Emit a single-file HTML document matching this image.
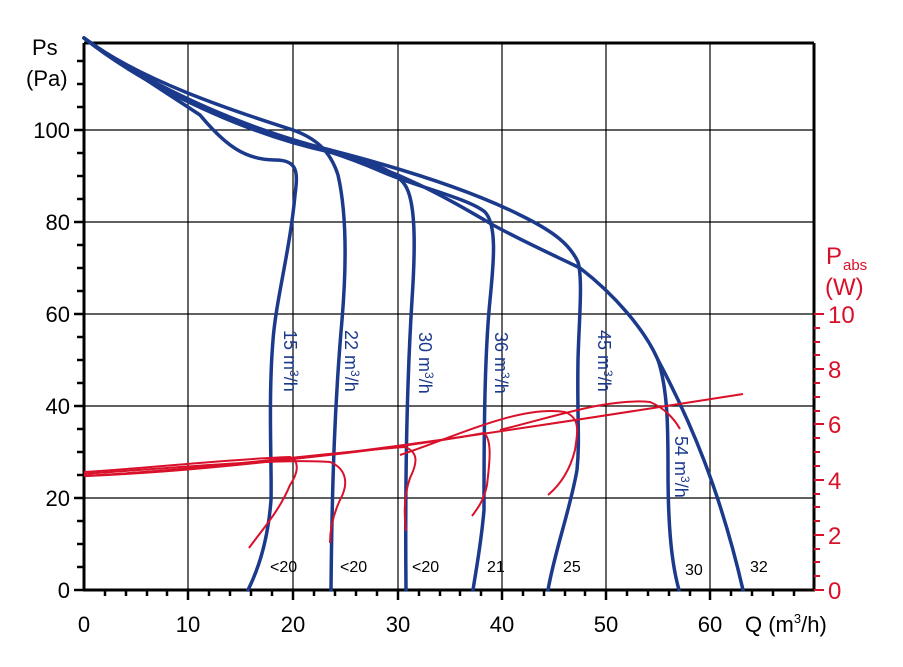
<!DOCTYPE html>
<html><head><meta charset="utf-8"><style>
body{margin:0;background:#fff}
svg{display:block;font-family:"Liberation Sans",Arial,sans-serif}
</style></head><body>
<svg width="903" height="667" viewBox="0 0 903 667" xmlns="http://www.w3.org/2000/svg">
<rect width="903" height="667" fill="#fff"/>
<g stroke="#000" stroke-width="1.2">
<line x1="84" y1="130" x2="814" y2="130"/>
<line x1="84" y1="222" x2="814" y2="222"/>
<line x1="84" y1="314" x2="814" y2="314"/>
<line x1="84" y1="406" x2="814" y2="406"/>
<line x1="84" y1="498" x2="814" y2="498"/>
<line x1="188" y1="43" x2="188" y2="590"/>
<line x1="293" y1="43" x2="293" y2="590"/>
<line x1="398" y1="43" x2="398" y2="590"/>
<line x1="502" y1="43" x2="502" y2="590"/>
<line x1="606" y1="43" x2="606" y2="590"/>
<line x1="710" y1="43" x2="710" y2="590"/>
</g>
<g stroke="#000" stroke-width="3" fill="none">
<line x1="84" y1="43" x2="814" y2="43"/>
<line x1="84" y1="43" x2="84" y2="591"/>
<line x1="83" y1="590" x2="815" y2="590"/>
<line x1="814" y1="43" x2="814" y2="591"/>
</g>
<g stroke="#000" stroke-width="2.5">
<line x1="77" y1="61" x2="84" y2="61"/><line x1="77" y1="84" x2="84" y2="84"/><line x1="77" y1="107" x2="84" y2="107"/><line x1="74" y1="130" x2="84" y2="130"/>
<line x1="77" y1="153" x2="84" y2="153"/><line x1="77" y1="176" x2="84" y2="176"/><line x1="77" y1="199" x2="84" y2="199"/><line x1="74" y1="222" x2="84" y2="222"/>
<line x1="77" y1="245" x2="84" y2="245"/><line x1="77" y1="268" x2="84" y2="268"/><line x1="77" y1="291" x2="84" y2="291"/><line x1="74" y1="314" x2="84" y2="314"/>
<line x1="77" y1="337" x2="84" y2="337"/><line x1="77" y1="360" x2="84" y2="360"/><line x1="77" y1="383" x2="84" y2="383"/><line x1="74" y1="406" x2="84" y2="406"/>
<line x1="77" y1="429" x2="84" y2="429"/><line x1="77" y1="452" x2="84" y2="452"/><line x1="77" y1="475" x2="84" y2="475"/><line x1="74" y1="498" x2="84" y2="498"/>
<line x1="77" y1="521" x2="84" y2="521"/><line x1="77" y1="544" x2="84" y2="544"/><line x1="77" y1="567" x2="84" y2="567"/><line x1="74" y1="590" x2="84" y2="590"/>
</g>
<g stroke="#000" stroke-width="2.5">
<line x1="105" y1="590" x2="105" y2="596"/><line x1="126" y1="590" x2="126" y2="596"/><line x1="147" y1="590" x2="147" y2="596"/><line x1="167" y1="590" x2="167" y2="596"/><line x1="188" y1="590" x2="188" y2="600"/>
<line x1="209" y1="590" x2="209" y2="596"/><line x1="230" y1="590" x2="230" y2="596"/><line x1="251" y1="590" x2="251" y2="596"/><line x1="272" y1="590" x2="272" y2="596"/><line x1="293" y1="590" x2="293" y2="600"/>
<line x1="314" y1="590" x2="314" y2="596"/><line x1="335" y1="590" x2="335" y2="596"/><line x1="356" y1="590" x2="356" y2="596"/><line x1="377" y1="590" x2="377" y2="596"/><line x1="398" y1="590" x2="398" y2="600"/>
<line x1="419" y1="590" x2="419" y2="596"/><line x1="440" y1="590" x2="440" y2="596"/><line x1="460" y1="590" x2="460" y2="596"/><line x1="481" y1="590" x2="481" y2="596"/><line x1="502" y1="590" x2="502" y2="600"/>
<line x1="523" y1="590" x2="523" y2="596"/><line x1="544" y1="590" x2="544" y2="596"/><line x1="565" y1="590" x2="565" y2="596"/><line x1="585" y1="590" x2="585" y2="596"/><line x1="606" y1="590" x2="606" y2="600"/>
<line x1="627" y1="590" x2="627" y2="596"/><line x1="648" y1="590" x2="648" y2="596"/><line x1="669" y1="590" x2="669" y2="596"/><line x1="690" y1="590" x2="690" y2="596"/><line x1="710" y1="590" x2="710" y2="600"/>
<line x1="731" y1="590" x2="731" y2="596"/><line x1="752" y1="590" x2="752" y2="596"/><line x1="773" y1="590" x2="773" y2="596"/><line x1="794" y1="590" x2="794" y2="596"/>
</g>
<g stroke="#d9102a" stroke-width="2">
<line x1="814" y1="576" x2="820" y2="576"/><line x1="814" y1="562" x2="820" y2="562"/><line x1="814" y1="549" x2="820" y2="549"/><line x1="814" y1="535" x2="824" y2="535"/>
<line x1="814" y1="521" x2="820" y2="521"/><line x1="814" y1="507" x2="820" y2="507"/><line x1="814" y1="494" x2="820" y2="494"/><line x1="814" y1="480" x2="824" y2="480"/>
<line x1="814" y1="466" x2="820" y2="466"/><line x1="814" y1="452" x2="820" y2="452"/><line x1="814" y1="438" x2="820" y2="438"/><line x1="814" y1="424" x2="824" y2="424"/>
<line x1="814" y1="411" x2="820" y2="411"/><line x1="814" y1="397" x2="820" y2="397"/><line x1="814" y1="383" x2="820" y2="383"/><line x1="814" y1="369" x2="824" y2="369"/>
<line x1="814" y1="355" x2="820" y2="355"/><line x1="814" y1="342" x2="820" y2="342"/><line x1="814" y1="328" x2="820" y2="328"/><line x1="814" y1="314" x2="824" y2="314"/>
<line x1="814" y1="590" x2="824" y2="590"/>
</g>
<g font-size="22" fill="#000" text-anchor="end">
<text x="70" y="138">100</text><text x="70" y="230">80</text><text x="70" y="322">60</text><text x="70" y="414">40</text><text x="70" y="506">20</text><text x="70" y="598">0</text>
</g>
<g font-size="22" fill="#000" text-anchor="middle">
<text x="84" y="632">0</text><text x="188" y="632">10</text><text x="293" y="632">20</text><text x="398" y="632">30</text><text x="502" y="632">40</text><text x="606" y="632">50</text><text x="710" y="632">60</text>
</g>
<text x="745" y="632" font-size="22">Q (m<tspan font-size="13" dy="-9">3</tspan><tspan dy="9">/h)</tspan></text>
<text x="32" y="55" font-size="22">Ps</text>
<text x="26" y="86" font-size="22">(Pa)</text>
<g font-size="24" fill="#d9102a">
<text x="828" y="323">10</text><text x="828" y="378">8</text><text x="828" y="433">6</text><text x="828" y="489">4</text><text x="828" y="544">2</text><text x="828" y="599">0</text>
<text x="826" y="264">P</text><text x="843" y="270" font-size="15">abs</text>
<text x="825" y="295">(W)</text>
</g>
<g stroke="#1c3a8c" stroke-width="3.5" fill="none" stroke-linecap="round">
<path d="M84,38 C130,70 170,95 200,115 C225,145 245,160 275,160 C298,160 298,172 295,195 C290,250 276,300 273,340 C268,400 272,470 271,500 C268,540 258,570 248,590"/>
<path d="M84,38 C140,80 230,110 293,130 C315,138 330,150 338,175 C346,210 347,260 342,320 C335,400 332,480 331,590"/>
<path d="M84,38 C150,88 250,130 330,150 C370,162 395,170 405,185 C415,200 416,240 412,300 C407,380 405,480 406,590"/>
<path d="M84,38 C150,88 250,130 330,152 C370,165 380,172 398,178 C430,190 470,200 485,212 C497,225 494,260 490,300 C484,360 484,450 484,510 C481,545 476,570 473,590"/>
<path d="M84,38 C150,90 250,135 330,150 C400,168 470,190 520,215 C555,232 570,245 578,262 C583,280 579,320 578,360 C577,420 580,440 577,470 C570,510 555,550 548,590"/>
<path d="M84,38 C150,90 250,135 330,152 C400,170 450,200 493,225 C530,245 560,258 580,268 C615,295 645,330 658,360 C668,390 668,430 668,470 C668,530 672,565 679,590"/>
<path d="M658,360 C690,420 720,490 743,590"/>
</g>
<g stroke="#d9102a" stroke-width="2" fill="none">
<path d="M84,476 C250,470 450,440 743,394"/>
<path d="M84,472 C150,468 230,459 290,457 C298,460 300,470 290,485 C280,510 262,530 249,548"/>
<path d="M84,474 C170,468 280,458 330,462 C345,468 350,482 340,500 C333,515 330,530 330,543"/>
<path d="M84,476 C200,470 330,452 405,447 C418,452 418,462 410,478 C404,495 404,515 406,531"/>
<path d="M84,476 C220,468 380,452 484,433 C492,440 490,460 487,485 C484,500 478,508 472,516"/>
<path d="M400,455 C460,435 520,405 565,412 C580,418 578,430 575,450 C570,470 560,485 548,495"/>
<path d="M500,430 C560,415 610,398 650,402 C665,408 675,420 680,429"/>
</g>
<g font-size="18" fill="#1c3a8c">
<text transform="translate(284,330) rotate(90)">15 m<tspan font-size="12" dy="-6">3</tspan><tspan dy="6">/h</tspan></text>
<text transform="translate(345,330) rotate(90)">22 m<tspan font-size="12" dy="-6">3</tspan><tspan dy="6">/h</tspan></text>
<text transform="translate(419,332) rotate(90)">30 m<tspan font-size="12" dy="-6">3</tspan><tspan dy="6">/h</tspan></text>
<text transform="translate(495,332) rotate(90)">36 m<tspan font-size="12" dy="-6">3</tspan><tspan dy="6">/h</tspan></text>
<text transform="translate(598,330) rotate(90)">45 m<tspan font-size="12" dy="-6">3</tspan><tspan dy="6">/h</tspan></text>
<text transform="translate(675,436) rotate(90)">54 m<tspan font-size="12" dy="-6">3</tspan><tspan dy="6">/h</tspan></text>
</g>
<g font-size="16" fill="#000">
<text x="270" y="572">&lt;20</text><text x="340" y="572">&lt;20</text><text x="412" y="572">&lt;20</text>
<text x="487" y="572">21</text><text x="563" y="572">25</text><text x="685" y="575">30</text><text x="750" y="572">32</text>
</g>
</svg>
</body></html>
